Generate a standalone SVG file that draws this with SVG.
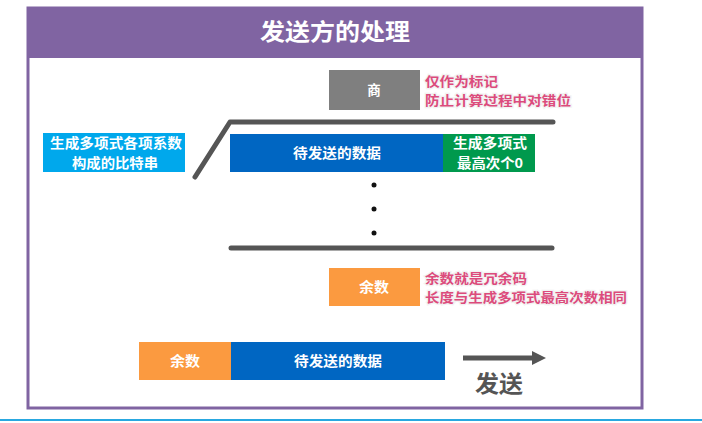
<svg xmlns="http://www.w3.org/2000/svg" width="702" height="423" viewBox="0 0 702 423">
<defs>
<style>
.t{font-family:"Noto Sans CJK SC","Noto Sans",sans-serif;font-weight:bold;fill:#fff;font-size:13.5px;text-anchor:middle}
.note{font-family:"Noto Sans CJK SC","Noto Sans",sans-serif;font-weight:bold;fill:#dc4b7c;font-size:13px;stroke:#f2f2f2;stroke-width:2.5;paint-order:stroke}
.bar{stroke:#555;stroke-width:5;fill:none;stroke-linecap:round;stroke-linejoin:round}
</style>
</defs>
<rect width="702" height="423" fill="#fff"/>
<g id="frame">
<rect x="28" y="8" width="614" height="400" fill="#fff" stroke="#8064a2" stroke-width="3"/>
<rect x="27" y="7" width="616" height="51" fill="#8064a2"/>
<text x="335" y="40" class="t" style="font-size:23px" textLength="150" lengthAdjust="spacingAndGlyphs">发送方的处理</text>
</g>
<line x1="0" y1="420" x2="702" y2="420" stroke="#29a8e0" stroke-width="2"/>
<g id="connectors">
<polyline class="bar" points="195,177 230,122 553,122"/>
<line class="bar" x1="231" y1="248" x2="552" y2="248"/>
<line x1="463" y1="358" x2="534" y2="358" stroke="#555" stroke-width="5"/>
<polygon points="532,351 546,358 532,365" fill="#555"/>
</g>
<g id="quotient">
<rect x="329" y="70" width="91" height="40" fill="#7f7f7f"/>
<text x="374" y="95" class="t">商</text>
</g>
<g id="quotient-note">
<text x="425" y="86" class="note" textLength="73" lengthAdjust="spacingAndGlyphs">仅作为标记</text>
<text x="425" y="105" class="note" textLength="146" lengthAdjust="spacingAndGlyphs">防止计算过程中对错位</text>
</g>
<g id="generator">
<rect x="43" y="133" width="142" height="39" fill="#00a8ec"/>
<text x="116" y="148" class="t" textLength="132" lengthAdjust="spacingAndGlyphs">生成多项式各项系数</text>
<text x="115" y="168" class="t" textLength="86" lengthAdjust="spacingAndGlyphs">构成的比特串</text>
</g>
<g id="data">
<rect x="230" y="134" width="213" height="38" fill="#0066c2"/>
<text x="337" y="158" class="t" textLength="88" lengthAdjust="spacingAndGlyphs">待发送的数据</text>
</g>
<g id="zeros">
<rect x="443" y="134" width="92" height="38" fill="#00994d"/>
<text x="490" y="148" class="t" textLength="74" lengthAdjust="spacingAndGlyphs">生成多项式</text>
<text x="490" y="168" class="t" textLength="66" lengthAdjust="spacingAndGlyphs">最高次个0</text>
</g>
<g id="dots" fill="#111">
<circle cx="374" cy="185" r="2.5"/>
<circle cx="374" cy="209" r="2.5"/>
<circle cx="374" cy="233" r="2.5"/>
</g>
<g id="remainder">
<rect x="329" y="268" width="91" height="38" fill="#fb9a40"/>
<text x="374" y="292" class="t" textLength="30" lengthAdjust="spacingAndGlyphs">余数</text>
</g>
<g id="remainder-note">
<text x="425" y="283" class="note" textLength="102" lengthAdjust="spacingAndGlyphs">余数就是冗余码</text>
<text x="425" y="302" class="note" textLength="202" lengthAdjust="spacingAndGlyphs">长度与生成多项式最高次数相同</text>
</g>
<g id="send-remainder">
<rect x="139" y="342" width="92" height="38" fill="#fb9a40"/>
<text x="185" y="366" class="t" textLength="30" lengthAdjust="spacingAndGlyphs">余数</text>
</g>
<g id="send-data">
<rect x="231" y="342" width="214" height="38" fill="#0066c2"/>
<text x="338" y="366" class="t" textLength="88" lengthAdjust="spacingAndGlyphs">待发送的数据</text>
</g>
<g id="send-label">
<text x="499" y="392" class="t" style="fill:#555;font-size:23px" textLength="48" lengthAdjust="spacingAndGlyphs">发送</text>
</g>
</svg>
